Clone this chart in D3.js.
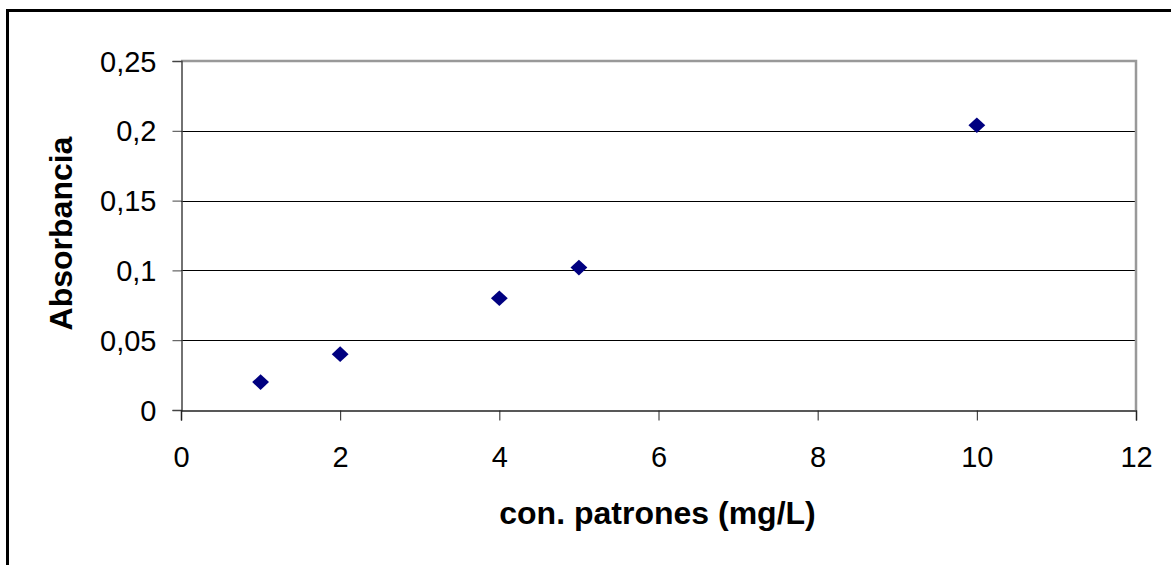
<!DOCTYPE html>
<html>
<head>
<meta charset="utf-8">
<script src="https://cdn.jsdelivr.net/npm/d3@7"></script>
<style>
  html, body { margin: 0; padding: 0; background: #fff; }
  svg { display: block; }
  text { font-family: "Liberation Sans", Arial, sans-serif; fill: #000; }
</style>
</head>
<body>
<svg id="chart" width="1171" height="565"></svg>
<script>
// Calibration standards: concentration (mg/L) vs. absorbance
const concentrations = [1, 2, 4, 5, 10];
const absorbances = [0.02, 0.04, 0.08, 0.102, 0.204];
const xTicks = [0, 2, 4, 6, 8, 10, 12];
const yTicks = [0, 0.05, 0.1, 0.15, 0.2, 0.25];

const svg = d3.select("#chart");
const W = 1171, H = 565;
const plot = { left: 181, right: 1136, top: 61, bottom: 410 };

const x = d3.scaleLinear().domain([0, 12]).range([plot.left, plot.right]);
const y = d3.scaleLinear().domain([0, 0.25]).range([plot.bottom, plot.top]);
const fmt = d => String(d).replace(".", ",");

// Outer chart border (runs off the right and bottom edges)
svg.append("rect")
  .attr("x", 7.5).attr("y", 10.5)
  .attr("width", W + 20).attr("height", H + 20)
  .attr("fill", "none").attr("stroke", "#000").attr("stroke-width", 3);

// Horizontal gridlines
svg.append("g")
  .selectAll("line")
  .data(yTicks.filter(v => v > 0 && v < 0.25))
  .join("line")
  .attr("x1", plot.left).attr("x2", plot.right)
  .attr("y1", d => Math.round(y(d)) + 0.5).attr("y2", d => Math.round(y(d)) + 0.5)
  .attr("stroke", "#000").attr("stroke-width", 1);

// Plot frame: grey top and right edges
svg.append("path")
  .attr("d", `M${plot.left},${plot.top} H${plot.right} V${plot.bottom}`)
  .attr("fill", "none").attr("stroke", "#999").attr("stroke-width", 2.5);

// Y axis
const yAxis = d3.axisLeft(y).tickValues(yTicks).tickFormat(fmt).tickSize(9).tickPadding(16);
const gy = svg.append("g").attr("transform", `translate(${plot.left + 0.5},0)`).call(yAxis);
gy.select(".domain").attr("stroke", "#444").attr("stroke-width", 1.5);
gy.selectAll(".tick line").attr("stroke", "#444");
gy.selectAll(".tick text").attr("font-size", 29).attr("font-family", "Liberation Sans, Arial, sans-serif").attr("fill", "#000").attr("dy", "0.35em");

// X axis
const xAxis = d3.axisBottom(x).tickValues(xTicks).tickFormat(fmt).tickSize(10).tickPadding(26);
const gx = svg.append("g").attr("transform", `translate(0,${plot.bottom + 0.5})`).call(xAxis);
gx.select(".domain").attr("stroke", "#222").attr("stroke-width", 1.5);
gx.selectAll(".tick line").attr("stroke", "#222");
gx.selectAll(".tick text").attr("font-size", 29).attr("font-family", "Liberation Sans, Arial, sans-serif").attr("fill", "#000");

// Axis titles
svg.append("text")
  .attr("x", (plot.left + plot.right) / 2 - 1).attr("y", 524)
  .attr("text-anchor", "middle")
  .attr("font-size", 32).attr("font-weight", "bold")
  .text("con. patrones (mg/L)");

svg.append("text")
  .attr("transform", `translate(72,${(plot.top + plot.bottom) / 2 - 2}) rotate(-90)`)
  .attr("text-anchor", "middle")
  .attr("font-size", 32).attr("font-weight", "bold")
  .text("Absorbancia");

// Data markers: navy diamonds
const diamond = d3.symbol().type(d3.symbolDiamond2).size(155);
svg.append("g")
  .selectAll("path")
  .data(concentrations.map((c, i) => [c, absorbances[i]]))
  .join("path")
  .attr("d", diamond)
  .attr("transform", d => `translate(${x(d[0])},${y(d[1])}) scale(1.08,1)`)
  .attr("fill", "#000080");
</script>
</body>
</html>
